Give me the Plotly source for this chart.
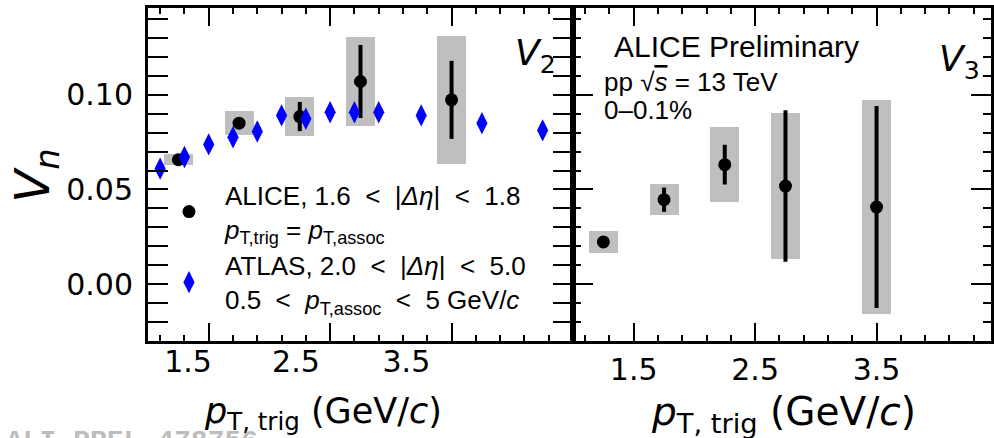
import plotly.graph_objects as go

# ---------------- data ----------------
alice_pt = [1.25, 1.75, 2.25, 2.75, 3.5]
alice_v2 = [0.0657, 0.0850, 0.0885, 0.1070, 0.0973]
alice_v2_stat = [0.0010, 0.0015, 0.0077, 0.0193, 0.0206]
alice_v2_syst = [0.0030, 0.0064, 0.0105, 0.0233, 0.0336]

atlas_pt = [1.1, 1.3, 1.5, 1.7, 1.9, 2.1, 2.3, 2.5, 2.7, 2.9, 3.25, 3.75, 4.25]
atlas_v2 = [0.0610, 0.0671, 0.0738, 0.0776, 0.0806, 0.0891, 0.0873,
            0.0908, 0.0908, 0.0908, 0.0891, 0.0850, 0.0812]

alice_v3 = [0.0223, 0.0446, 0.0631, 0.0518, 0.0407]
alice_v3_stat = [0.0025, 0.0064, 0.0105, 0.0400, 0.0533]
alice_v3_syst = [0.0060, 0.0082, 0.0198, 0.0385, 0.0567]

x_tick_vals = [1.5, 2.5, 3.5]
x_tick_text = ["1.5", "2.5", "3.5"]
left_label_vals = [1.33, 2.218, 3.128]   # left panel labels are drawn shifted
y_tick_vals = [0.0, 0.05, 0.10]
y_tick_text = ["0.00", "0.05", "0.10"]

# ---------------- layout geometry ----------------
W, H = 994, 438
L, R, T, B = 148, 0, 7.5, 97
PW = W - L - R
PH = H - T - B
split_px = 574.5
d = (split_px - L) / PW
px_per_unit = (split_px - L) / 3.5
x2_max = 1.0 + (W - split_px) / px_per_unit


def px(x):
    return (x - L) / PW


def py(y):
    return (H - B - y) / PH


GRAY = "#bfbfbf"
BLUE = "#0000ff"
TICKFONT = dict(family="DejaVu Sans", size=30, color="black")
TXT = "Liberation Sans"

fig = go.Figure()

# systematic boxes
fig.add_trace(go.Bar(
    x=alice_pt, y=[2 * s for s in alice_v2_syst],
    base=[v - s for v, s in zip(alice_v2, alice_v2_syst)],
    width=0.24, marker=dict(color=GRAY, line=dict(width=0)),
    showlegend=False, xaxis="x", yaxis="y", hoverinfo="skip"))
fig.add_trace(go.Bar(
    x=alice_pt, y=[2 * s for s in alice_v3_syst],
    base=[v - s for v, s in zip(alice_v3, alice_v3_syst)],
    width=0.24, marker=dict(color=GRAY, line=dict(width=0)),
    showlegend=False, xaxis="x2", yaxis="y2", hoverinfo="skip"))

# ATLAS (drawn on the overlay axis that carries the left-panel labels; same range)
fig.add_trace(go.Scatter(
    x=atlas_pt, y=atlas_v2, mode="markers",
    marker=dict(symbol="diamond-tall", size=16, color=BLUE),
    name="ATLAS, 2.0&nbsp;&nbsp;&lt;&nbsp;&nbsp;|<i>Δη</i>|&nbsp;&nbsp;&lt;&nbsp;&nbsp;5.0<br>"
         "0.5&nbsp;&nbsp;&lt;&nbsp;&nbsp;<i>p</i><sub>T,assoc</sub>&nbsp;&nbsp;&lt;&nbsp;&nbsp;5 GeV/<i>c</i>",
    xaxis="x3", yaxis="y", legendrank=2))

# ALICE v2
fig.add_trace(go.Scatter(
    x=alice_pt, y=alice_v2, mode="markers",
    marker=dict(symbol="circle", size=13, color="black"),
    error_y=dict(type="data", array=alice_v2_stat, color="black", thickness=4, width=0),
    name="ALICE, 1.6&nbsp;&nbsp;&lt;&nbsp;&nbsp;|<i>Δη</i>|&nbsp;&nbsp;&lt;&nbsp;&nbsp;1.8<br>"
         "<i>p</i><sub>T,trig</sub>&nbsp;=&nbsp;<i>p</i><sub>T,assoc</sub>",
    xaxis="x", yaxis="y", legendrank=1))

# ALICE v3
fig.add_trace(go.Scatter(
    x=alice_pt, y=alice_v3, mode="markers",
    marker=dict(symbol="circle", size=13, color="black"),
    error_y=dict(type="data", array=alice_v3_stat, color="black", thickness=4, width=0),
    showlegend=False, xaxis="x2", yaxis="y2"))

axis_common = dict(showline=True, linewidth=3, linecolor="black", mirror="allticks",
                   showgrid=False, zeroline=False, ticks="inside", tickcolor="black",
                   tickwidth=2)

xminor = dict(ticks="inside", tick0=1.1, dtick=0.2, ticklen=6, tickwidth=2,
              tickcolor="black", showgrid=False)
yminor = dict(ticks="inside", tick0=0.0, dtick=0.01, ticklen=8, tickwidth=2,
              tickcolor="black", showgrid=False)

fig.update_layout(
    width=W, height=H, autosize=False,
    margin=dict(l=L, r=R, t=T, b=B, pad=0),
    paper_bgcolor="white", plot_bgcolor="white",
    barmode="overlay", bargap=0,
    xaxis=dict(domain=[0, d], range=[1.0, 4.5], anchor="y",
               tickmode="array", tickvals=x_tick_vals, ticklen=18,
               showticklabels=False, minor=xminor, **axis_common),
    xaxis3=dict(overlaying="x", anchor="y", range=[1.0, 4.5],
                tickmode="array", tickvals=left_label_vals, ticktext=x_tick_text,
                ticks="", showline=False, showgrid=False, zeroline=False,
                tickfont=TICKFONT, ticklabelstandoff=0, side="bottom"),
    xaxis2=dict(domain=[d, 1], range=[1.0, x2_max], anchor="y2",
                tickmode="array", tickvals=x_tick_vals, ticktext=x_tick_text,
                ticklen=18, tickfont=TICKFONT, ticklabelstandoff=0,
                minor=xminor, **axis_common),
    yaxis=dict(domain=[0, 1], range=[-0.03, 0.1458], anchor="x",
               tickmode="array", tickvals=y_tick_vals, ticktext=y_tick_text,
               ticklen=20, tickfont=TICKFONT, ticklabelstandoff=6,
               minor=yminor, **axis_common),
    yaxis2=dict(domain=[0, 1], range=[-0.03, 0.1458], anchor="x2", matches="y",
                tickmode="array", tickvals=y_tick_vals, ticklen=20,
                showticklabels=False, minor=yminor, **axis_common),
    legend=dict(x=px(153), y=py(171), xanchor="left", yanchor="top",
                bgcolor="rgba(0,0,0,0)", borderwidth=0,
                font=dict(family=TXT, size=26, color="black"),
                itemwidth=62, tracegroupgap=6, traceorder="normal"),
    showlegend=True,
)

ann = []
# watermark
ann.append(dict(text="<b>ALI-PREL-478756</b>", x=px(3), y=py(442), xref="paper", yref="paper",
                xanchor="left", yanchor="middle", showarrow=False,
                font=dict(family="Liberation Mono", size=28, color="#bdbdbd")))
# axis titles
ann.append(dict(text="<i>V</i><sub><i>n</i></sub>", x=px(35), y=py(175), xref="paper", yref="paper",
                xanchor="center", yanchor="middle", showarrow=False, textangle=-90,
                font=dict(family="DejaVu Sans", size=48, color="black")))
ann.append(dict(text="<i>p</i><sub>T, trig</sub> (GeV/<i>c</i>)", x=px(324), y=py(414),
                xref="paper", yref="paper", xanchor="center", yanchor="middle", showarrow=False,
                font=dict(family="DejaVu Sans", size=35, color="black")))
ann.append(dict(text="<i>p</i><sub>T, trig</sub> (GeV/<i>c</i>)", x=px(785.5), y=py(414),
                xref="paper", yref="paper", xanchor="center", yanchor="middle", showarrow=False,
                font=dict(family="DejaVu Sans", size=39, color="black")))
# panel labels
ann.append(dict(text="<i>V</i><sub>2</sub>", x=px(514), y=py(55), xref="paper", yref="paper",
                xanchor="left", yanchor="middle", showarrow=False,
                font=dict(family="DejaVu Sans", size=36, color="black")))
ann.append(dict(text="<i>V</i><sub>3</sub>", x=px(940), y=py(61), xref="paper", yref="paper",
                xanchor="left", yanchor="middle", showarrow=False,
                font=dict(family="DejaVu Sans", size=36, color="black")))
# ALICE Preliminary block
ann.append(dict(text="ALICE Preliminary", x=px(614), y=py(46), xref="paper", yref="paper",
                xanchor="left", yanchor="middle", showarrow=False,
                font=dict(family=TXT, size=30, color="black")))
ann.append(dict(text="pp √<span style='text-decoration:overline'><i>s</i></span> = 13 TeV",
                x=px(604), y=py(82), xref="paper", yref="paper",
                xanchor="left", yanchor="middle", showarrow=False,
                font=dict(family=TXT, size=26, color="black")))
ann.append(dict(text="0–0.1%", x=px(604), y=py(110), xref="paper", yref="paper",
                xanchor="left", yanchor="middle", showarrow=False,
                font=dict(family=TXT, size=26, color="black")))

fig.update_layout(annotations=ann)

fig.write_html("out.html",
               config={"displayModeBar": False},
               post_script="document.body.style.margin='0px';document.body.style.overflow='hidden';")
